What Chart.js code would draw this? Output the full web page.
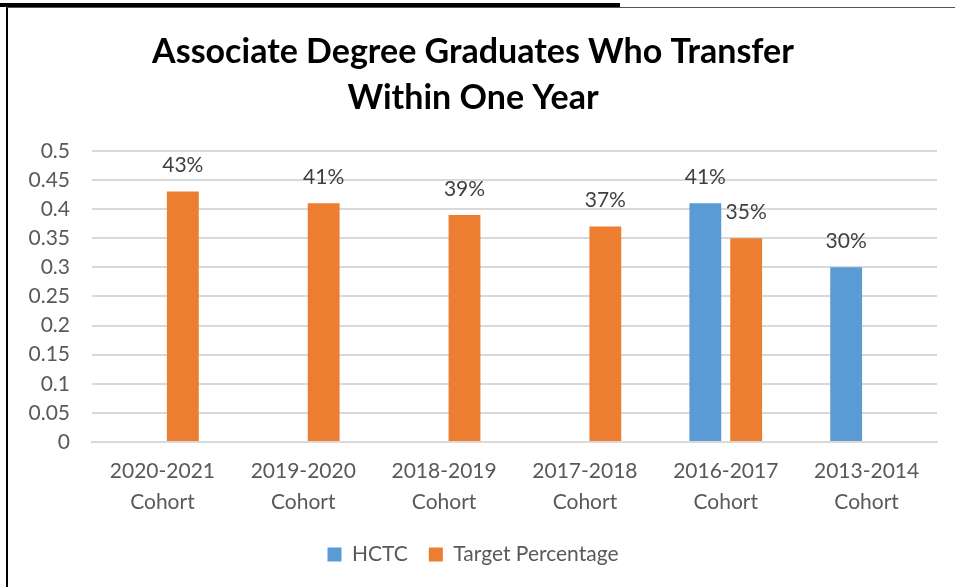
<!DOCTYPE html>
<html><head><meta charset="utf-8">
<script src="https://cdn.jsdelivr.net/npm/chart.js@4/dist/chart.umd.min.js"></script>
<style>
html,body{margin:0;padding:0;background:#fff;width:955px;height:587px;overflow:hidden;position:relative;}
#topline{position:absolute;left:0;top:3px;width:620px;height:4px;background:#000;}
#frame{position:absolute;left:6px;top:7px;width:1000px;height:600px;border-left:2px solid #000;border-top:1px solid #555;}
#wrap{position:absolute;left:9px;top:8px;width:957px;height:579px;}
</style></head>
<body>
<div id="topline"></div>
<div id="frame"></div>
<div id="wrap"><canvas id="c" width="957" height="579"></canvas></div>
<script>
const categories = [['2020-2021','Cohort'],['2019-2020','Cohort'],['2018-2019','Cohort'],['2017-2018','Cohort'],['2016-2017','Cohort'],['2013-2014','Cohort']];
const hctc = [null, null, null, null, 0.41, 0.30];
const target = [0.43, 0.41, 0.39, 0.37, 0.35, null];
const titleLines = ['Associate Degree Graduates Who Transfer', 'Within One Year'];
const FONT = 'Lato, "Open Sans", sans-serif';

const labelPlugin = {
  id: 'barLabels',
  afterDatasetsDraw(chart) {
    const ctx = chart.ctx;
    ctx.save();
    ctx.font = '21px ' + FONT;
    ctx.fillStyle = '#404040';
    ctx.textAlign = 'center';
    ctx.textBaseline = 'middle';
    chart.data.datasets.forEach((ds, di) => {
      const meta = chart.getDatasetMeta(di);
      meta.data.forEach((bar, i) => {
        const v = ds.data[i];
        if (v === null || v === undefined) return;
        ctx.fillText(Math.round(v * 100) + '%', bar.x, bar.y - 26);
      });
    });
    ctx.restore();
  }
};

new Chart(document.getElementById('c'), {
  type: 'bar',
  data: {
    labels: categories,
    datasets: [
      { label: 'HCTC', data: hctc, backgroundColor: '#5B9BD5', categoryPercentage: 0.58, barPercentage: 0.78 },
      { label: 'Target Percentage', data: target, backgroundColor: '#ED7D31', categoryPercentage: 0.58, barPercentage: 0.78 }
    ]
  },
  options: {
    responsive: false,
    animation: false,
    layout: { padding: { left: 0, right: 29, top: 0, bottom: 12 } },
    plugins: {
      title: {
        display: true,
        text: titleLines,
        font: { family: FONT, size: 34, weight: 'bold', lineHeight: 1.35 },
        color: '#000',
        padding: { top: 21, bottom: 30 }
      },
      legend: {
        position: 'bottom',
        labels: { font: { family: FONT, size: 21 }, color: '#595959', boxWidth: 14, boxHeight: 14, padding: 21 }
      },
      tooltip: { enabled: false }
    },
    scales: {
      x: {
        grid: { display: false },
        border: { color: '#D9D9D9', width: 2 },
        ticks: { font: { family: FONT, size: 21, lineHeight: 1.45 }, color: '#595959', padding: 6, maxRotation: 0 }
      },
      y: {
        min: 0, max: 0.5,
        afterFit(s) { s.width = 83; },
        grid: { color: '#D9D9D9', lineWidth: 2, drawTicks: false },
        border: { display: false },
        ticks: { stepSize: 0.05, font: { family: FONT, size: 21 }, color: '#595959', padding: 22,
          callback: v => String(Math.round(v * 100) / 100) }
      }
    }
  },
  plugins: [labelPlugin]
});
</script>
</body></html>
